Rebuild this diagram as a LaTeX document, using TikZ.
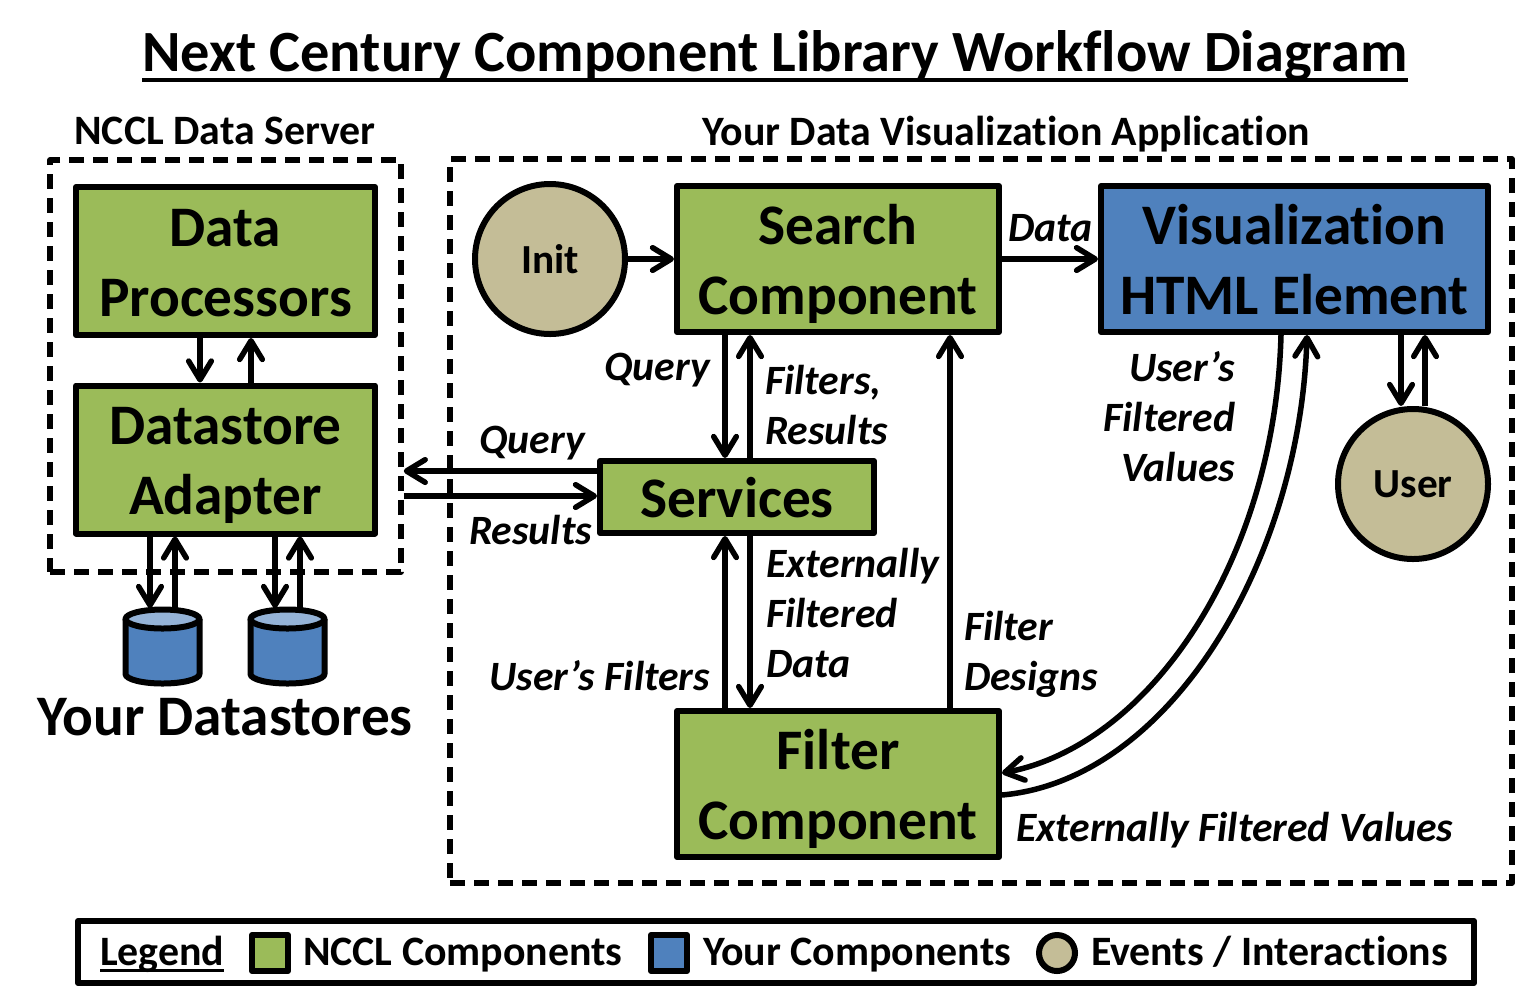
\documentclass[tikz,border=0pt]{standalone}
\usepackage{fontspec}
\setmainfont[Ligatures=NoCommon]{Carlito}
\usetikzlibrary{arrows.meta}
\definecolor{cgreen}{HTML}{9BBB59}
\definecolor{cblue}{HTML}{4F81BD}
\definecolor{clight}{HTML}{95B3D7}
\definecolor{ctan}{HTML}{C4BD97}
\def\px{0.75pt}
\newcommand{\ruled}[2]{\setbox0=\hbox{#2}\rlap{\rule[#1]{\wd0}{2.4pt}}\box0}
\newcommand{\boxlines}[2]{\raisebox{11.25pt}[0pt][0pt]{\makebox[0pt]{#1}}\raisebox{-41.25pt}[0pt][0pt]{\makebox[0pt]{#2}}}
\tikzset{
  every picture/.style={line width=6*\px, line join=round, font=\bfseries},
  box/.style 2 args={draw=black, fill=cgreen, align=center, inner sep=0pt,
    minimum width=#1*\px, minimum height=#2*\px,
    font=\bfseries\fontsize{43}{52.5}\selectfont},
  event/.style={circle, draw=black, fill=ctan, inner sep=0pt, minimum size=150*\px,
    font=\bfseries\fontsize{31}{36}\selectfont},
  region/.style 2 args={draw=black, line width=5.5*\px, dash pattern=on 11.5pt off 6.5pt,
    minimum width=#1*\px, minimum height=#2*\px, inner sep=0pt},
  datastore/.pic={
    \draw[fill=cblue] (-37,-27.5) -- (-37,27.5)
      arc[start angle=180, end angle=360, x radius=37*\px, y radius=9.5*\px] -- (37,-27.5);
    \draw[fill=clight] (0,-27.5) ellipse[x radius=37*\px, y radius=9.5*\px];
    \coordinate (-top) at (0,-38.5);
  },
  arrow/.style={-{Straight Barb[round, length=14pt, width=17pt]}, line width=5.5*\px},
  flow/.style={font=\bfseries\itshape\fontsize{31.3}{37.5}\selectfont, align=left, inner sep=0pt, outer sep=0pt},
  head/.style={font=\bfseries\fontsize{31.4}{36}\selectfont, inner sep=0pt, outer sep=0pt},
  swatch/.style={draw=black, minimum size=36*\px, inner sep=0pt},
}

\begin{document}
\begin{tikzpicture}[x=0.75pt, y=-0.75pt]
  \useasboundingbox (0,0) rectangle (1516,1001);
  % titles
  \node[font=\bfseries\fontsize{43.8}{50}\selectfont, inner sep=0pt, outer sep=0pt, anchor=base] (title) at (775,71) {\ruled{-8pt}{Next Century Component Library Workflow Diagram}};
  \node[head, anchor=base] (serverlabel) at (225,144) {NCCL Data Server};
  \node[head, anchor=base] (applabel) at (1006,145) {Your Data Visualization Application};
  % dashed regions
  \node[region={351}{412}] (server) at (225.5,366) {};
  \node[region={1062}{724}] (app) at (981,521) {};
  % server side
  \node[box={299}{148}] (processors) at (225.5,261) {\boxlines{Data}{Processors}};
  \node[box={299}{148}] (adapter) at (225.5,459.5) {\boxlines{Datastore}{Adapter}};
  \pic (storea) at (162.5,646.5) {datastore};
  \pic (storeb) at (287.5,646.5) {datastore};
  \node[font=\bfseries\fontsize{43}{50}\selectfont, inner sep=0pt, outer sep=0pt, anchor=base] (stores) at (225,735) {Your Datastores};
  % application side
  \node[event] (init) at (550,259) {Init};
  \node[box={322}{146}] (search) at (838,259) {\boxlines{Search}{Component}};
  \node[box={387}{146}, fill=cblue] (vis) at (1294.5,259) {\boxlines{Visualization}{HTML Element}};
  \node[box={274}{72}, execute at begin node={\rule{0pt}{31pt}}] (services) at (737,497) {Services};
  \node[box={322}{146}] (filter) at (838,784) {\boxlines{Filter}{Component}};
  \node[event] (user) at (1413,484) {User};
  % connectors
  \draw[arrow] ([xshift=-25.5*\px]processors.south) -- ([xshift=-25.5*\px]adapter.north);
  \draw[arrow] ([xshift=25.5*\px]adapter.north) -- ([xshift=25.5*\px]processors.south);
  \draw[arrow] ([xshift=-75.5*\px]adapter.south) -- ([xshift=-12.5*\px]storea-top);
  \draw[arrow] ([xshift=12.5*\px]storea-top) -- ([xshift=-50.5*\px]adapter.south);
  \draw[arrow] ([xshift=49.5*\px]adapter.south) -- ([xshift=-12.5*\px]storeb-top);
  \draw[arrow] ([xshift=12.5*\px]storeb-top) -- ([xshift=74.5*\px]adapter.south);
  \draw[arrow] ([yshift=26*\px]services.west) -- ([yshift=-105*\px]server.east);
  \draw[arrow] ([yshift=-130*\px]server.east) -- ([yshift=1*\px]services.west);
  \draw[arrow] (init) -- (search);
  \draw[arrow] (search) -- (vis);
  \draw[arrow] ([xshift=-113*\px]search.south) -- ([xshift=-12*\px]services.north);
  \draw[arrow] ([xshift=13*\px]services.north) -- ([xshift=-88*\px]search.south);
  \draw[arrow] ([xshift=-113*\px]filter.north) -- ([xshift=-12*\px]services.south);
  \draw[arrow] ([xshift=13*\px]services.south) -- ([xshift=-88*\px]filter.north);
  \draw[arrow] ([xshift=112*\px]filter.north) -- ([xshift=112*\px]search.south);
  \draw[arrow] ([xshift=106.5*\px]vis.south) -- ([xshift=-12*\px]user.north);
  \draw[arrow] ([xshift=12*\px]user.north) -- ([xshift=130.5*\px]vis.south);
  \draw[arrow] ([xshift=-13.5*\px]vis.south) .. controls (1275,560) and (1150,745) .. ([yshift=11*\px]filter.east);
  \draw[arrow] ([yshift=-11*\px]filter.east) .. controls (1170,780) and (1300,560) .. ([xshift=12.5*\px]vis.south);
  % connector labels
  \node[flow, anchor=west] (ldata) at (1008,228) {Data};
  \node[flow, anchor=east] (lquery) at (710,370) {Query};
  \node[flow, anchor=west] (lresults) at (765,405) {Filters,\\Results};
  \node[flow, anchor=east] (lquerys) at (585,443) {Query};
  \node[flow, anchor=east] (lresultss) at (592,530) {Results};
  \node[flow, anchor=west] (lext) at (766,613) {Externally\\Filtered\\Data};
  \node[flow, anchor=east] (lufilters) at (710,676) {User’s Filters};
  \node[flow, anchor=west] (ldesigns) at (964,654) {Filter\\Designs};
  \node[flow, anchor=east, align=right] (lvalues) at (1235,417) {User’s\\Filtered\\Values};
  \node[flow, anchor=west] (lextvalues) at (1016,830) {Externally Filtered Values};
  % legend
  \node[draw=black, minimum width=1396*\px, minimum height=62*\px, inner sep=0pt] (legend) at (776,952) {};
  \node[head, anchor=base west] (llegend) at (100,965) {\ruled{-5.6pt}{Legend}};
  \node[swatch, fill=cgreen] (sgreen) at (270,953) {};
  \node[head, anchor=base west] (lgreen) at (303,965) {NCCL Components};
  \node[swatch, fill=cblue] (sblue) at (669,953) {};
  \node[head, anchor=base west] (lblue) at (703,965) {Your Components};
  \node[swatch, circle, fill=ctan] (stan) at (1057,953) {};
  \node[head, anchor=base west] (ltan) at (1091,965) {Events / Interactions};
\end{tikzpicture}
\end{document}
